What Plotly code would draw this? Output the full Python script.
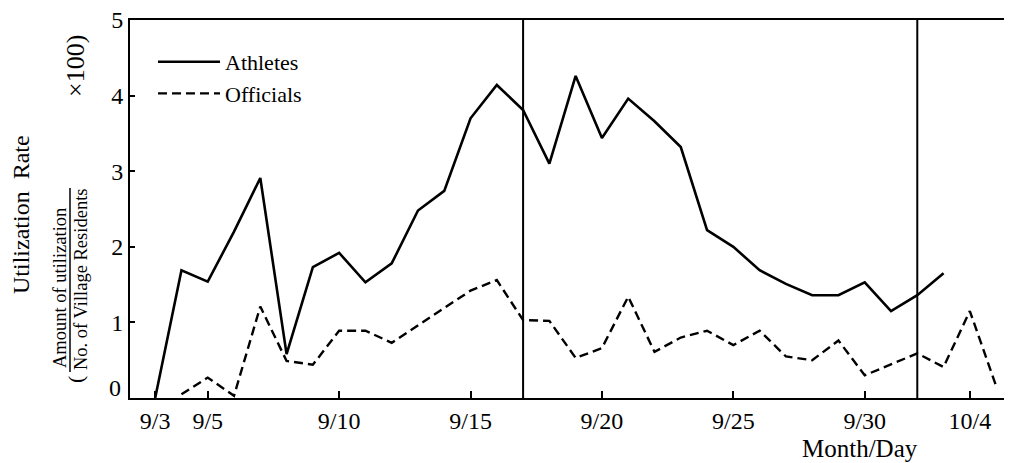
import plotly.graph_objects as go

# ---- data ----
dates = ["1988-09-%02d" % d for d in range(3, 31)] + ["1988-10-%02d" % d for d in range(1, 6)]

athletes = [0.00, 1.69, 1.54, 2.20, 2.91, 0.58, 1.73, 1.92, 1.53, 1.78,
            2.48, 2.74, 3.70, 4.14, 3.81, 3.10, 4.26, 3.44, 3.96, 3.66,
            3.32, 2.22, 2.00, 1.69, 1.51, 1.36, 1.36, 1.53, 1.15, 1.36,
            1.65, None, None]

officials = [None, 0.05, 0.27, 0.03, 1.21, 0.49, 0.44, 0.89, 0.89, 0.73,
             0.96, 1.19, 1.42, 1.56, 1.03, 1.02, 0.53, 0.66, 1.34, 0.61,
             0.80, 0.89, 0.70, 0.89, 0.55, 0.50, 0.76, 0.30, 0.45, 0.59,
             0.41, 1.15, 0.16]

tick_dates = ["1988-09-03", "1988-09-05", "1988-09-10", "1988-09-15",
              "1988-09-20", "1988-09-25", "1988-09-30", "1988-10-04"]
tick_labels = ["9/3", "9/5", "9/10", "9/15", "9/20", "9/25", "9/30", "10/4"]

event_dates = ["1988-09-17", "1988-10-02"]  # opening / closing

y_ticks = [0, 1, 2, 3, 4, 5]
y_tick_labels = ["", "1", "2", "3", "4", "5"]  # "0" drawn a little higher, as in the original

FONT = "Liberation Serif"

# page body has an 8px margin: plot area should be x 130..1012, y 20..398 in the page
OFF = 8
PL, PT, PW, PH = 130, 20, 882, 378


def px(xp):
    return (xp - PL) / PW


def py(yp):
    return (PT + PH - yp) / PH


fig = go.Figure()
fig.add_trace(go.Scatter(x=dates, y=athletes, mode="lines", name="Athletes",
                         line=dict(color="black", width=2.6)))
fig.add_trace(go.Scatter(x=dates, y=officials, mode="lines", name="Officials",
                         line=dict(color="black", width=2.4, dash="9px,5px")))

for d in event_dates:
    fig.add_shape(type="line", xref="x", yref="paper", x0=d, x1=d, y0=0, y1=1,
                  line=dict(color="black", width=2))


def ann(x, y, text, size, angle=-90, xanchor="center"):
    fig.add_annotation(xref="paper", yref="paper", x=px(x), y=py(y),
                       xanchor=xanchor, yanchor="middle",
                       text=text, textangle=angle, showarrow=False,
                       font=dict(family=FONT, size=size, color="black"))


# y-axis label (fraction)
ann(21, 215, "Utilization&nbsp;&nbsp;Rate", 24)
ann(60, 288, "Amount of utilization", 18.5)
ann(81, 280, "No. of Village Residents", 18.5)
ann(75, 66, "×100)", 26)
ann(75, 380, "(", 22)
fig.add_shape(type="line", xref="paper", yref="paper",
              x0=px(70), x1=px(70), y0=py(372), y1=py(188),
              line=dict(color="black", width=1.5))

# zero label of the y axis
ann(123, 388, "0", 24, angle=0, xanchor="right")

ann(860, 448, "Month/Day", 25, angle=0)

fig.update_layout(
    width=1012 - OFF, height=463 - OFF,
    margin=dict(l=PL - OFF, r=0, t=PT - OFF, b=463 - (PT + PH)),
    paper_bgcolor="white", plot_bgcolor="white",
    font=dict(family=FONT, size=24, color="black"),
    showlegend=True,
    legend=dict(x=px(153), y=py(41), xanchor="left", yanchor="top",
                bgcolor="rgba(0,0,0,0)", itemwidth=62, tracegroupgap=0,
                font=dict(family=FONT, size=22, color="black")),
    xaxis=dict(type="date", range=["1988-09-02T01:00", "1988-10-05T14:30"],
               tickmode="array", tickvals=tick_dates, ticktext=tick_labels,
               ticks="inside", ticklen=7, tickwidth=2, tickcolor="black",
               showline=True, linecolor="black", linewidth=2, mirror=True,
               showgrid=False, zeroline=False, ticklabeloverflow="allow",
               tickfont=dict(family=FONT, size=24, color="black")),
    yaxis=dict(range=[0, 5], tickmode="array", tickvals=y_ticks, ticktext=y_tick_labels,
               ticks="inside", ticklen=5, tickwidth=2, tickcolor="black",
               showline=True, linecolor="black", linewidth=2,
               showgrid=False, zeroline=False, ticklabeloverflow="allow",
               tickfont=dict(family=FONT, size=24, color="black")),
)

fig.write_html("out.html")
